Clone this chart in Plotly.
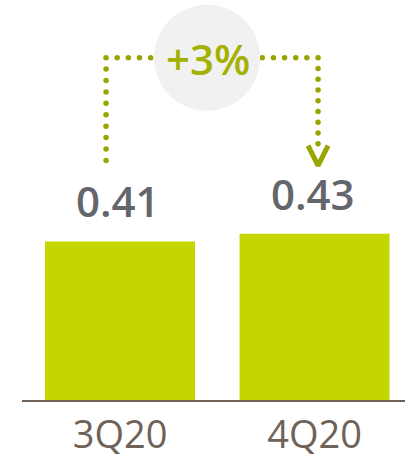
import numpy as np
import plotly.graph_objects as go

# Quarterly values
quarters = ["3Q20", "4Q20"]
values = [0.41, 0.43]
change_label = "+3%"

BAR_COLOR = "#c3d600"
DOT_COLOR = "#9aa400"
AXIS_COLOR = "#6e6259"
VALUE_COLOR = "#63666a"

W, H = 405, 461
M_L, M_R, M_T, M_B = 22, 0, 0, 61
X_RANGE = [-0.504, 1.465]
Y_RANGE = [0.0, 1.034]

plot_w = W - M_L - M_R
plot_h = H - M_T - M_B
px_x = (X_RANGE[1] - X_RANGE[0]) / plot_w  # data units per pixel (x)
px_y = (Y_RANGE[1] - Y_RANGE[0]) / plot_h  # data units per pixel (y)

x_pos = list(range(len(quarters)))

fig = go.Figure()
fig.add_trace(go.Bar(
    x=x_pos, y=values, width=0.771,
    marker=dict(color=BAR_COLOR, line=dict(width=0)),
    hoverinfo="skip", showlegend=False,
))

# Value labels above bars
for xi, v in zip(x_pos, values):
    fig.add_annotation(
        x=xi - 2 * px_x, y=v, xref="x", yref="y", text=f"{v:.2f}",
        showarrow=False, yanchor="bottom", yshift=10,
        font=dict(family="Open Sans", size=42, color=VALUE_COLOR, weight=600),
    )

# Dotted connector from the first bar to the second, with an arrow head
left_x = x_pos[0] - 14 * px_x
right_x = x_pos[1] + 3.5 * px_x
top_y = max(values) + 176 * px_y
start_y = values[0] + 81 * px_y
end_y = values[1] + 90 * px_y
step = 11.1

def dots(a, b, n_px):
    n = int(round(n_px / step))
    return np.linspace(a, b, n + 1)

seg1_y = dots(start_y, top_y, (top_y - start_y) / px_y)
seg2_x = dots(left_x, right_x, (right_x - left_x) / px_x)[1:]
seg3_y = dots(top_y, end_y, (top_y - end_y) / px_y)[1:]
dx = np.concatenate([np.full(len(seg1_y), left_x), seg2_x, np.full(len(seg3_y), right_x)])
dy = np.concatenate([seg1_y, np.full(len(seg2_x), top_y), seg3_y])
fig.add_trace(go.Scatter(
    x=dx, y=dy, mode="markers",
    marker=dict(size=5.5, color=DOT_COLOR),
    hoverinfo="skip", showlegend=False,
))

tip_y = end_y - 22 * px_y
fig.add_trace(go.Scatter(
    x=[right_x - 10 * px_x, right_x, right_x + 10 * px_x],
    y=[end_y - 2 * px_y, tip_y, end_y - 2 * px_y],
    mode="lines", line=dict(color=DOT_COLOR, width=5),
    hoverinfo="skip", showlegend=False,
))

# Change badge
cx = (left_x + right_x) / 2 - 5 * px_x
fig.add_shape(
    type="circle", xref="x", yref="y",
    xsizemode="pixel", ysizemode="pixel",
    xanchor=cx, yanchor=top_y,
    x0=-53, x1=53, y0=-53, y1=53,
    fillcolor="#f1f1f1", line=dict(width=0), layer="above",
)
fig.add_annotation(
    x=cx, y=top_y, xref="x", yref="y", text=change_label,
    showarrow=False, yshift=-1, xshift=1,
    font=dict(family="Open Sans", size=42, color="#a3b100", weight=600),
)

fig.update_layout(
    width=W, height=H,
    margin=dict(l=M_L, r=M_R, t=M_T, b=M_B),
    paper_bgcolor="white", plot_bgcolor="white",
    xaxis=dict(
        range=X_RANGE, tickvals=x_pos, ticktext=quarters,
        showline=True, linecolor=AXIS_COLOR, linewidth=2,
        showgrid=False, zeroline=False, ticks="",
        tickfont=dict(family="Open Sans", size=38, color=AXIS_COLOR),
        fixedrange=True,
    ),
    yaxis=dict(range=Y_RANGE, visible=False, fixedrange=True),
)

fig.write_html("out.html")
